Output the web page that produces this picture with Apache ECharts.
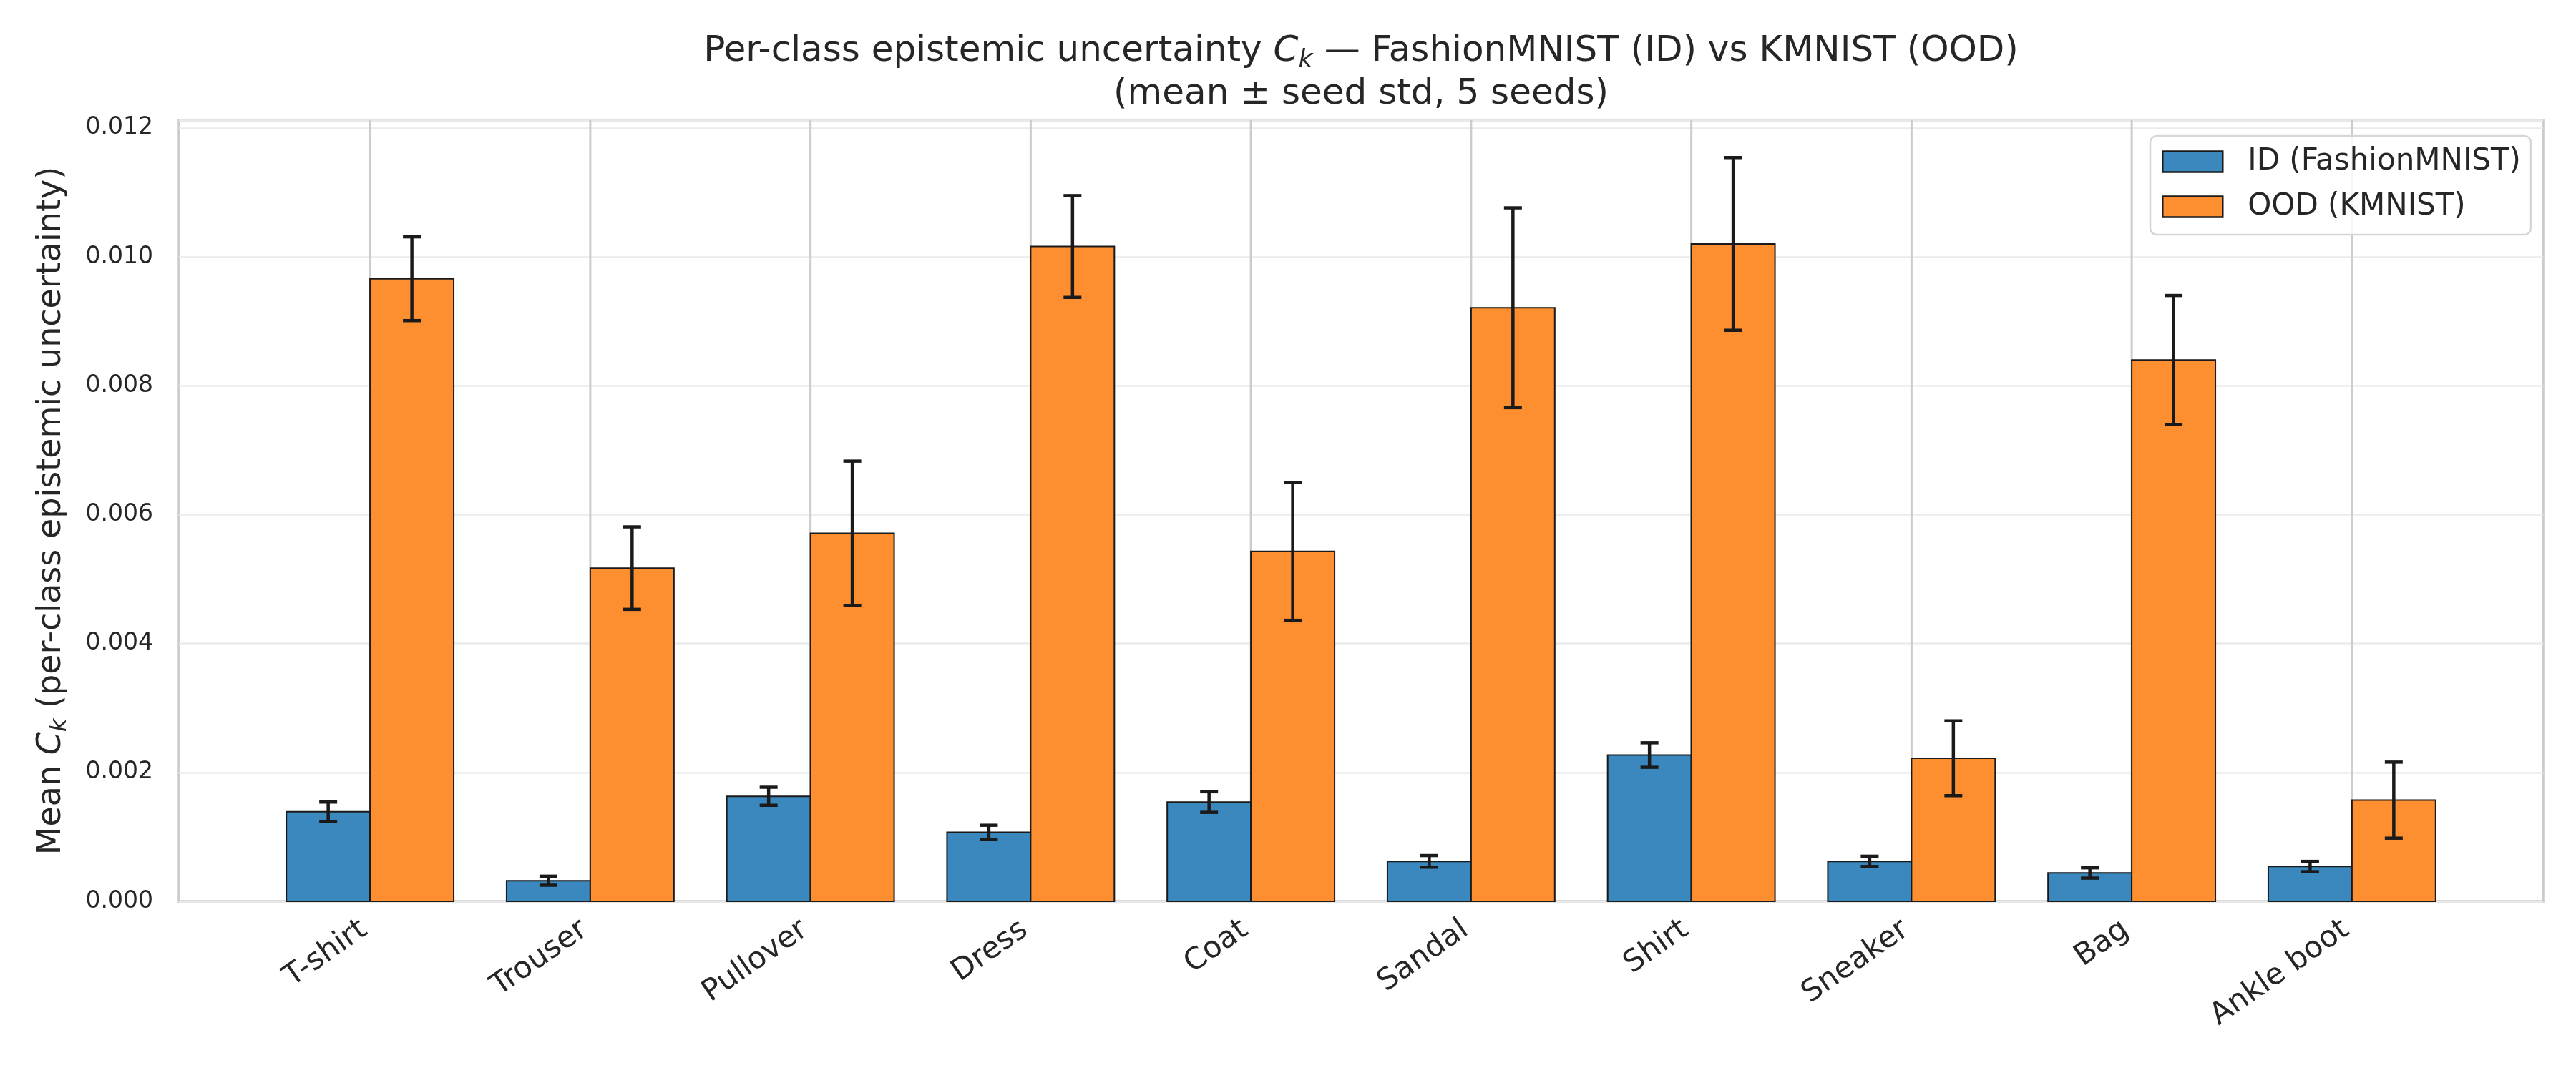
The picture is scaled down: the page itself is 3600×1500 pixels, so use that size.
<!DOCTYPE html>
<html>
<head>
<meta charset="utf-8">
<script src="https://cdn.jsdelivr.net/npm/echarts@6/dist/echarts.min.js"></script>
<style>
  html, body { margin: 0; padding: 0; background: #fff; }
  #chart { width: 3600px; height: 1500px; }
</style>
</head>
<body>
<div id="chart"></div>
<script>
// per-class C_k, FashionMNIST (ID) vs KMNIST (OOD), mean and seed std
var categories = ['T-shirt', 'Trouser', 'Pullover', 'Dress', 'Coat', 'Sandal', 'Shirt', 'Sneaker', 'Bag', 'Ankle boot'];
var idMean  = [0.00139, 0.00032, 0.00163, 0.00107, 0.00154, 0.00062, 0.00227, 0.00062, 0.00044, 0.00054];
var idStd   = [0.00015, 0.00007, 0.00014, 0.00011, 0.00016, 0.00009, 0.00019, 0.00008, 0.00008, 0.00008];
var oodMean = [0.00966, 0.00517, 0.00571, 0.01016, 0.00543, 0.00921, 0.01020, 0.00222, 0.00840, 0.00157];
var oodStd  = [0.00065, 0.00064, 0.00112, 0.00079, 0.00107, 0.00155, 0.00134, 0.00058, 0.00100, 0.00059];
var yTicks  = [0, 0.002, 0.004, 0.006, 0.008, 0.010, 0.012];

var barW = 0.38;
var idColor = '#3b88bf';
var oodColor = '#fe8f30';
var edge = '#1a1a1a';
var textColor = '#262626';
var font = 'DejaVu Sans';

function rows(mean, std) {
    return mean.map(function (v, i) { return [i, v, v - std[i], v + std[i]]; });
}

// bar + error bar for one group, offset from the category centre
function barItem(offset, color) {
    return function (params, api) {
        var i = api.value(0);
        var p0 = api.coord([i + offset - barW / 2, api.value(1)]);
        var p1 = api.coord([i + offset + barW / 2, 0]);
        var lo = api.coord([i + offset, api.value(2)]);
        var hi = api.coord([i + offset, api.value(3)]);
        var cap = 12.5;
        var eb = { stroke: edge, lineWidth: 4.5 };
        return {
            type: 'group',
            children: [
                { type: 'rect', shape: { x: p0[0], y: p0[1], width: p1[0] - p0[0], height: p1[1] - p0[1] },
                  style: { fill: color, stroke: edge, lineWidth: 2 } },
                { type: 'line', shape: { x1: lo[0], y1: lo[1], x2: hi[0], y2: hi[1] }, style: eb },
                { type: 'line', shape: { x1: lo[0] - cap, y1: lo[1], x2: lo[0] + cap, y2: lo[1] }, style: eb },
                { type: 'line', shape: { x1: hi[0] - cap, y1: hi[1], x2: hi[0] + cap, y2: hi[1] }, style: eb }
            ]
        };
    };
}

var chart = echarts.init(document.getElementById('chart'), null, { renderer: 'canvas' });

var option = {
    backgroundColor: '#ffffff',
    animation: false,
    textStyle: { fontFamily: font, color: textColor },
    title: {
        text: '{t|Per-class epistemic uncertainty }{c|C}{k|k}{t| \u2014 FashionMNIST (ID) vs KMNIST (OOD)}\n{t|(mean \u00b1 seed std, 5 seeds)}',
        left: 1902,
        top: 42,
        textAlign: 'center',
        padding: 0,
        textStyle: {
            fontWeight: 'normal',
            rich: {
                t: { fontFamily: font, fontSize: 50, fontWeight: 'normal', color: textColor, lineHeight: 60 },
                c: { fontFamily: font, fontSize: 50, fontWeight: 'normal', color: textColor, lineHeight: 60, fontStyle: 'italic' },
                k: { fontFamily: font, fontSize: 35, fontWeight: 'normal', color: textColor, lineHeight: 30, fontStyle: 'italic', verticalAlign: 'bottom' }
            }
        }
    },
    legend: {
        orient: 'vertical',
        right: 63,
        top: 190,
        padding: [15, 14, 18, 16],
        itemWidth: 84,
        itemHeight: 29,
        itemGap: 21,
        icon: 'rect',
        borderColor: '#d6d6d6',
        borderWidth: 2.5,
        borderRadius: 9,
        backgroundColor: 'rgba(255,255,255,0.8)',
        textStyle: { fontFamily: font, fontSize: 42, color: textColor, padding: [0, 0, 0, 30] },
        data: [
            { name: 'ID (FashionMNIST)', itemStyle: { color: idColor, borderColor: edge, borderWidth: 2.5 } },
            { name: 'OOD (KMNIST)', itemStyle: { color: oodColor, borderColor: edge, borderWidth: 2.5 } }
        ]
    },
    grid: {
        left: 250, right: 46, top: 168, bottom: 240,
        show: true, borderColor: '#cccccc', borderWidth: 3.5,
        containLabel: false
    },
    xAxis: {
        type: 'value',
        min: -0.868,
        max: 9.868,
        axisLine: { show: false },
        axisTick: { show: false },
        splitLine: { show: false },
        axisLabel: {
            customValues: categories.map(function (c, i) { return i; }),
            formatter: function (v) { return categories[Math.round(v)] || ''; },
            rotate: 35,
            margin: 30,
            padding: [0, 10, 0, 0],
            fontFamily: font,
            fontSize: 42,
            color: textColor
        }
    },
    yAxis: {
        type: 'value',
        min: 0,
        max: 0.01212,
        interval: 0.002,
        name: '{t|Mean }{c|C}{k|k}{t| (per-class epistemic uncertainty)}',
        nameLocation: 'middle',
        nameRotate: 90,
        nameGap: 150,
        nameTextStyle: {
            rich: {
                t: { fontFamily: font, fontSize: 46, color: textColor, lineHeight: 56 },
                c: { fontFamily: font, fontSize: 46, color: textColor, lineHeight: 56, fontStyle: 'italic' },
                k: { fontFamily: font, fontSize: 32, color: textColor, lineHeight: 28, fontStyle: 'italic', verticalAlign: 'bottom' }
            }
        },
        axisLine: { show: false },
        axisTick: { show: false },
        splitLine: { show: true, lineStyle: { color: '#ebebeb', width: 2.5 } },
        axisLabel: {
            customValues: yTicks,
            formatter: function (v) { return v.toFixed(3); },
            margin: 36,
            fontFamily: font,
            fontSize: 33,
            color: textColor
        }
    },
    series: [
        {
            name: 'vgrid',
            type: 'custom',
            silent: true,
            z: 1,
            data: categories.map(function (c, i) { return [i]; }),
            renderItem: function (params, api) {
                var a = api.coord([api.value(0), 0]);
                var b = api.coord([api.value(0), 0.01212]);
                return { type: 'line', shape: { x1: a[0], y1: a[1], x2: b[0], y2: b[1] },
                         style: { stroke: '#cccccc', lineWidth: 3 } };
            }
        },
        {
            name: 'ID (FashionMNIST)',
            type: 'custom',
            z: 3,
            itemStyle: { color: idColor },
            data: rows(idMean, idStd),
            renderItem: barItem(-barW / 2, idColor)
        },
        {
            name: 'OOD (KMNIST)',
            type: 'custom',
            z: 3,
            itemStyle: { color: oodColor },
            data: rows(oodMean, oodStd),
            renderItem: barItem(barW / 2, oodColor)
        }
    ]
};

chart.setOption(option);

window.onresize = function () {
    chart.resize();
};
</script>
</body>
</html>
